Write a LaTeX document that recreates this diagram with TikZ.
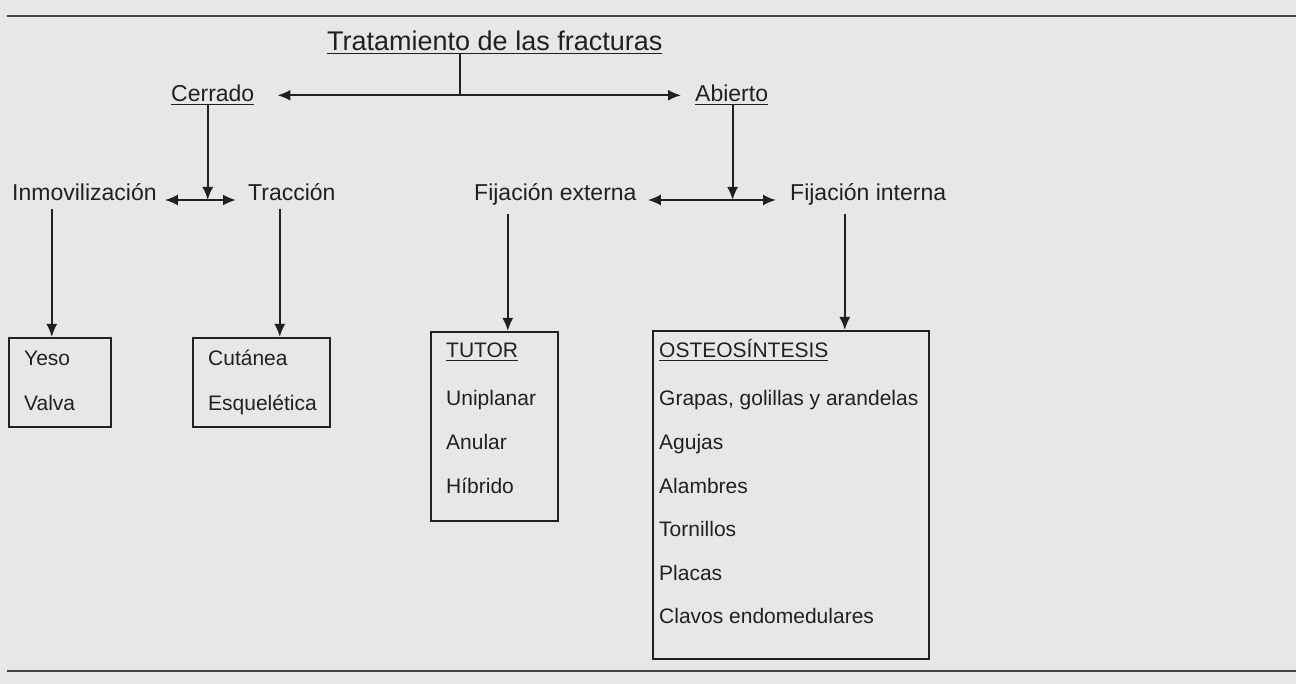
\documentclass[tikz,border=0pt]{standalone}
\usepackage{fontspec}
\setmainfont{Liberation Sans}
\usetikzlibrary{arrows.meta}

\definecolor{paper}{RGB}{230,231,233}
\definecolor{ink}{RGB}{35,31,32}

\newsavebox{\undlbox}
\newcommand{\undl}[1]{\sbox{\undlbox}{#1}\rlap{\rule[-3.2pt]{\wd\undlbox}{1.6pt}}\usebox{\undlbox}}

\begin{document}
\begin{tikzpicture}[x=1pt,y=-1pt]

\def\rowsep{43.5}

\tikzset{
        every node/.style={inner sep=0pt,text=ink},
        lbl/.style={font=\fontsize{23}{27}\selectfont,anchor=base west},
        item/.style={font=\fontsize{21}{25}\selectfont,anchor=base west},
        box/.style={draw=ink,line width=1.6pt,anchor=north west},
        link/.style={draw=ink,line width=2pt,>={Latex[length=13pt,width=11pt]}},
        down/.style={link,->,shorten <=8pt},
        rule/.style={draw=ink!85,line width=2pt}
}

\useasboundingbox (0,0) rectangle (1296,684);
\fill[paper] (0,0) rectangle (1296,684);
\draw[rule] (7,16) -- (1296,16);
\draw[rule] (7,671) -- (1296,671);

\node[font=\fontsize{27}{32}\selectfont,anchor=base west] (title) at (327,51) {\undl{Tratamiento de las fracturas}};

\node[lbl] (cerrado) at (171,102) {\undl{Cerrado}};
\node[lbl] (abierto) at (695,102) {\undl{Abierto}};

\node[lbl] (inmov) at (12,201) {Inmovilización};
\node[lbl] (traccion) at (248,201) {Tracción};
\node[lbl] (fijext) at (474,201) {Fijación externa};
\node[lbl] (fijint) at (790,201) {Fijación interna};

% cajas
\node[box,minimum width=102,minimum height=89] (yeso) at (8,337) {};
\node[box,minimum width=137,minimum height=89] (cutanea) at (192,337) {};
\node[box,minimum width=127,minimum height=189] (tutor) at (430,331) {};
\node[box,minimum width=276,minimum height=328] (osteo) at (652,330) {};

\foreach \i/\t in {0/Yeso,1/Valva}
     \node[item] (yeso\i) at (24,366+44*\i) {\t};
\foreach \i/\t in {0/Cutánea,1/Esquelética}
     \node[item] (cut\i) at (208,366+44*\i) {\t};

\node[item] (tutor0) at (446,358) {\undl{TUTOR}};
\foreach \i/\t in {1/Uniplanar,2/Anular,3/Híbrido}
     \node[item] (tutor\i) at (446,362.5+\rowsep*\i) {\t};

\node[item] (osteo0) at (659,358) {\undl{OSTEOSÍNTESIS}};
\foreach \i/\t in {1/{Grapas, golillas y arandelas},2/Agujas,3/Alambres,4/Tornillos,5/Placas,6/Clavos endomedulares}
     \node[item] (osteo\i) at (659,362.5+\rowsep*\i) {\t};

% flechas
\draw[link] ([xshift=-35pt]title.south) -- ([xshift=-35pt]title.south |- cerrado.east);
\draw[link,<->,shorten <=23pt,shorten >=14pt] (cerrado.east) -- (abierto.west);

\draw[link,->] ([xshift=-5pt]cerrado.south) -- ([xshift=-5pt,yshift=1pt]cerrado.south |- inmov.base);
\draw[link,->] ([xshift=1pt]abierto.south) -- ([xshift=1pt,yshift=1pt]abierto.south |- fijext.base);

\draw[link,<->,shorten <=8pt,shorten >=12pt] ([yshift=1pt]inmov.base east) -- ([yshift=1pt]traccion.base west);
\draw[link,<->,shorten <=11pt,shorten >=14pt] ([yshift=1pt]fijext.base east) -- ([yshift=1pt]fijint.base west);

\draw[down] ([xshift=-8pt]yeso.north |- inmov.south) -- ([xshift=-8pt]yeso.north);
\draw[down] ([xshift=18.5pt]cutanea.north |- traccion.south) -- ([xshift=18.5pt]cutanea.north);
\draw[down] ([xshift=13.5pt]tutor.north |- fijext.south) -- ([xshift=13.5pt]tutor.north);
\draw[down] ([xshift=54pt]osteo.north |- fijint.south) -- ([xshift=54pt]osteo.north);

\end{tikzpicture}
\end{document}
